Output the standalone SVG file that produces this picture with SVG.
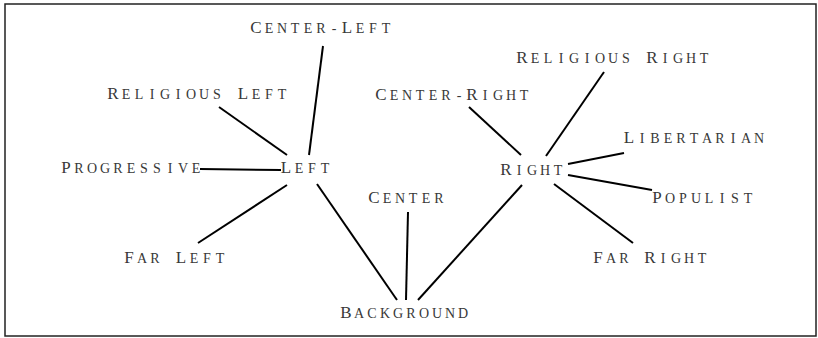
<svg xmlns="http://www.w3.org/2000/svg" width="818" height="338" viewBox="0 0 818 338">
<style>
text{font-family:"Liberation Serif","Times New Roman",serif;fill:#383838;font-size:17px;text-anchor:middle}
.s{font-size:14px}
.e{stroke:#000;stroke-width:2;fill:none;stroke-linecap:butt}
</style>
<rect x="5" y="4" width="811" height="332" fill="#fff" stroke="#222" stroke-width="1.5"/>
<g id="connectors">
<line class="e" x1="323" y1="46" x2="309" y2="155"/>
<line class="e" x1="219" y1="107" x2="287" y2="155"/>
<line class="e" x1="200" y1="169" x2="281" y2="170"/>
<line class="e" x1="287" y1="185" x2="198" y2="243"/>
<line class="e" x1="317" y1="184" x2="397" y2="300"/>
<line class="e" x1="408" y1="212" x2="406" y2="300"/>
<line class="e" x1="522" y1="185" x2="418" y2="300"/>
<line class="e" x1="469" y1="107" x2="521" y2="155"/>
<line class="e" x1="604" y1="72" x2="546" y2="156"/>
<line class="e" x1="624" y1="153" x2="568" y2="164"/>
<line class="e" x1="568" y1="175" x2="652" y2="190"/>
<line class="e" x1="554" y1="184" x2="633" y2="243"/>
</g>
<g id="center-left"><text x="256 269 282 295 308 321 334 347 360 373 386" y="33">C<tspan class="s">ENTER-</tspan>L<tspan class="s">EFT</tspan></text></g>
<g id="religious-left"><text x="113 126 139 152 165 178 191 204 217 230 243 256 269 282" y="99">R<tspan class="s">ELIGIOUS </tspan>L<tspan class="s">EFT</tspan></text></g>
<g id="progressive"><text x="66 79 92 105 118 131 144 157 170 183 196" y="173">P<tspan class="s">ROGRESSIVE</tspan></text></g>
<g id="left"><text x="286 299 312 325" y="173">L<tspan class="s">EFT</tspan></text></g>
<g id="far-left"><text x="129 142 155 168 181 194 207 220" y="263">F<tspan class="s">AR </tspan>L<tspan class="s">EFT</tspan></text></g>
<g id="center"><text x="374 387 400 413 426 439" y="203">C<tspan class="s">ENTER</tspan></text></g>
<g id="background"><text x="346 359 372 385 398 411 424 437 450 463" y="318">B<tspan class="s">ACKGROUND</tspan></text></g>
<g id="center-right"><text x="381 394 407 420 433 446 459 472 485 498 511 524" y="100">C<tspan class="s">ENTER-</tspan>R<tspan class="s">IGHT</tspan></text></g>
<g id="religious-right"><text x="522 535 548 561 574 587 600 613 626 639 652 665 678 691 704" y="63">R<tspan class="s">ELIGIOUS </tspan>R<tspan class="s">IGHT</tspan></text></g>
<g id="libertarian"><text x="629 642 655 668 681 694 707 720 733 746 759" y="143">L<tspan class="s">IBERTARIAN</tspan></text></g>
<g id="right"><text x="506 519 532 545 558" y="175">R<tspan class="s">IGHT</tspan></text></g>
<g id="populist"><text x="657 670 683 696 709 722 735 748" y="203">P<tspan class="s">OPULIST</tspan></text></g>
<g id="far-right"><text x="598 611 624 637 650 663 676 689 702" y="263">F<tspan class="s">AR </tspan>R<tspan class="s">IGHT</tspan></text></g>
</svg>
